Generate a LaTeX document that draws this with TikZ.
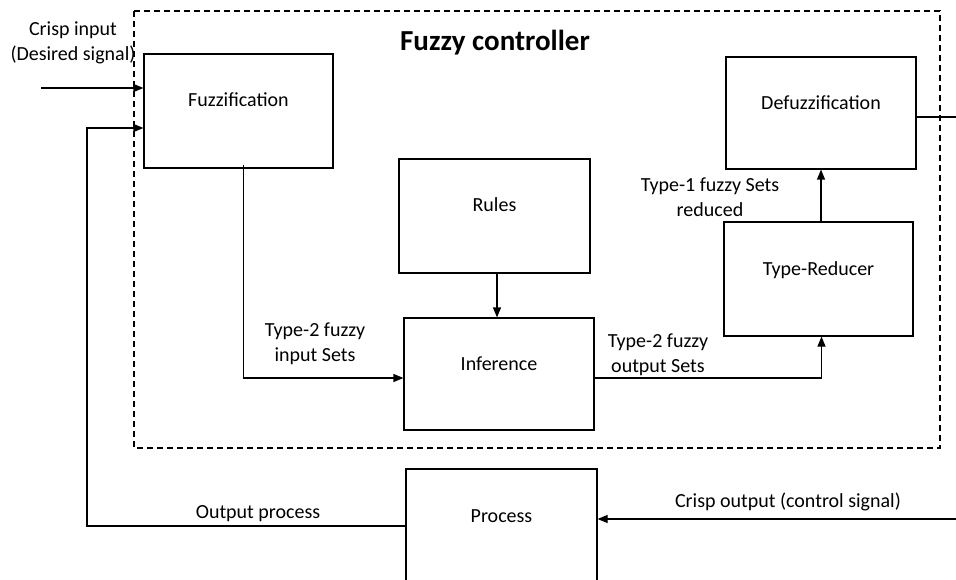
\documentclass[tikz,border=0pt]{standalone}
\usepackage{fontspec}
\setmainfont{Carlito}
\usetikzlibrary{arrows.meta,positioning}

\tikzset{
  blk/.style={draw,line width=1.2pt,minimum width=189pt,minimum height=114pt,inner sep=0pt},
  lbl/.style={font=\fontsize{20}{25}\selectfont,align=center,inner sep=0pt},
}

\begin{document}
\begin{tikzpicture}[x=1pt,y=-1pt,>={Triangle[length=10pt,width=8pt]},line width=1.2pt,font=\fontsize{20}{25}\selectfont]
\useasboundingbox (0,0) rectangle (956,580);
% controller frame
\draw[dash pattern=on 6pt off 4pt] (134,11) rectangle (940,448);
\node[font=\fontsize{29}{32}\bfseries] (title) at (495,43) {Fuzzy controller};
% blocks
\node[blk,label={[yshift=11pt]center:Fuzzification}] (fuzz) at (238.5,111) {};
\node[blk,minimum width=191pt,label={[yshift=11pt]center:Rules}] (rules) at (494.5,216) {};
\node[blk,minimum width=190pt,minimum height=112pt,label={[yshift=10pt]center:Inference}] (inf) at (499,374) {};
\node[blk,label={[yshift=9pt]center:Type-Reducer}] (tred) at (818.5,279) {};
\node[blk,minimum width=190pt,minimum height=112pt,label={[yshift=10pt]center:Defuzzification}] (defz) at (821,113) {};
\node[blk,minimum width=191pt,label={[yshift=10pt]center:Process}] (proc) at (501.5,526) {};
% free ends
\coordinate (cin) at (41,88);
\coordinate (fb) at (87,128);
\coordinate (dout) at (956,117);
\coordinate (cout) at (956,519);
% connectors
\draw[->] (cin) -- (cin -| fuzz.west);
\draw[->] (proc.west) -| (fb) -- (fb -| fuzz.west);
\draw[->] ([xshift=5pt,yshift=4pt]fuzz.south) |- ([yshift=-4pt]inf.west);
\draw[->] ([xshift=2.5pt]rules.south) -- ([xshift=2.5pt]rules.south |- inf.north);
\draw[->] ([yshift=-4pt]inf.east) -| ([xshift=3pt]tred.south);
\draw[->] (defz.south |- tred.north) -- (defz.south);
\draw (defz.east |- dout) -- (dout);
\draw[->] (cout) -- (cout -| proc.east);
% texts
\node[lbl] (tin) at (73,43) {Crisp input\\(Desired signal)};
\node[lbl] (t2in) at (315,344) {Type-2 fuzzy\\input Sets};
\node[lbl] (t2out) at (658,355) {Type-2 fuzzy\\output Sets};
\node[lbl] (t1red) at (710,197) {Type-1 fuzzy Sets\\reduced};
\node[lbl] (tout) at (258,514) {Output process};
\node[lbl] (tcout) at (788,502) {Crisp output (control signal)};
\end{tikzpicture}
\end{document}
